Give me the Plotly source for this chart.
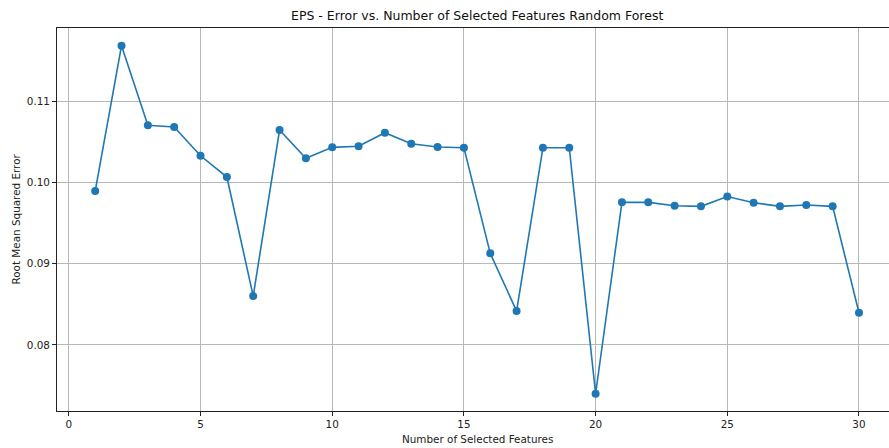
import plotly.graph_objects as go

num_features = list(range(1, 31))
rmse = [0.09893, 0.11680, 0.10701, 0.10680, 0.10327, 0.10065, 0.08601, 0.10643,
        0.10295, 0.10430, 0.10443, 0.10610, 0.10475, 0.10434, 0.10426, 0.09127,
        0.08417, 0.10426, 0.10426, 0.07400, 0.09754, 0.09754, 0.09712, 0.09705,
        0.09825, 0.09749, 0.09705, 0.09721, 0.09705, 0.08396]
x_ticks = [0, 5, 10, 15, 20, 25, 30]
y_ticks = [0.08, 0.09, 0.10, 0.11]

title_text = "EPS - Error vs. Number of Selected Features Random Forest"
x_label = "Number of Selected Features"
y_label = "Root Mean Squared Error"

fig = go.Figure()
fig.add_trace(go.Scatter(
    x=num_features, y=rmse, mode="lines+markers",
    line=dict(color="#1f77b4", width=1.6),
    marker=dict(color="#1f77b4", size=8),
    showlegend=False,
))

font_family = "DejaVu Sans"
fig.update_layout(
    width=889, height=448,
    margin=dict(l=57, r=0, t=28, b=37),
    paper_bgcolor="white", plot_bgcolor="white",
    font=dict(family=font_family, size=10.4, color="#222"),
    xaxis=dict(
        range=[-0.45, 31.14], tickvals=x_ticks, ticktext=[str(v) for v in x_ticks],
        showgrid=True, gridcolor="#b8b8b8", gridwidth=1, zeroline=False,
        showline=True, linecolor="#222", linewidth=1, mirror=True,
        ticks="outside", ticklen=4, tickcolor="#222",
        tickfont=dict(size=10.4, family=font_family, color="#222"),
    ),
    yaxis=dict(
        range=[0.07188, 0.11898], tickvals=y_ticks, tickformat=".2f",
        showgrid=True, gridcolor="#b8b8b8", gridwidth=1, zeroline=False,
        showline=True, linecolor="#222", linewidth=1, mirror=False,
        ticks="outside", ticklen=4, tickcolor="#222",
        tickfont=dict(size=10.4, family=font_family, color="#222"),
    ),
    annotations=[
        dict(text=title_text, xref="paper", yref="paper", x=(477 - 57) / 832, y=1,
             xanchor="center", yanchor="bottom", yshift=3, showarrow=False,
             font=dict(size=12.5, family=font_family, color="#111")),
        dict(text=x_label, xref="paper", yref="paper", x=(477 - 57) / 832, y=0,
             xanchor="center", yanchor="top", yshift=-20, showarrow=False,
             font=dict(size=10.4, family=font_family, color="#222")),
        dict(text=y_label, xref="paper", yref="paper", x=0, y=0.5,
             xanchor="center", yanchor="middle", xshift=-42, textangle=-90, showarrow=False,
             font=dict(size=10.4, family=font_family, color="#222")),
    ],
)

fig.write_html("out.html")
